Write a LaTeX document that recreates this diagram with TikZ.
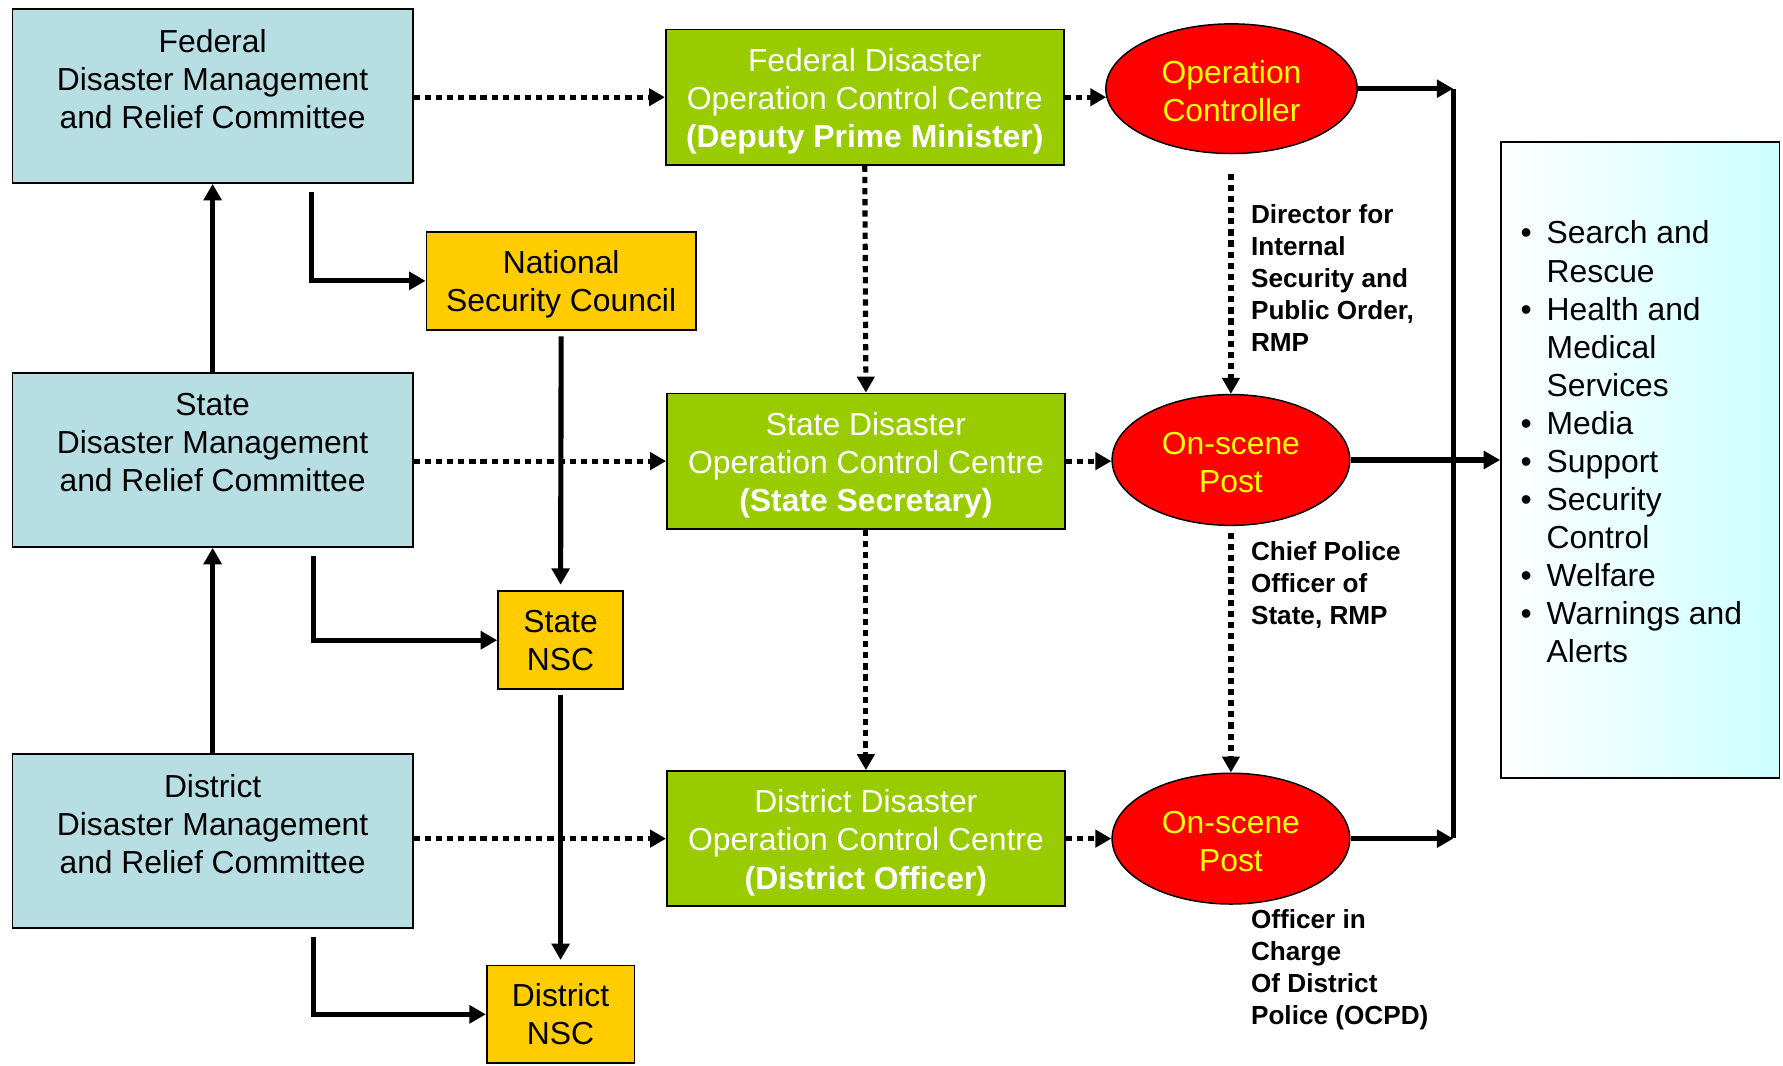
\documentclass[tikz,border=0pt]{standalone}
\usepackage{fontspec}
\setmainfont{Liberation Sans}
\usetikzlibrary{arrows.meta,shapes.geometric,calc}
\definecolor{dmblue}{HTML}{B7DEE3}
\definecolor{occgreen}{HTML}{99CC00}
\definecolor{nscgold}{HTML}{FFCC00}
\definecolor{postred}{HTML}{FF0000}
\definecolor{posttext}{HTML}{FFFF00}
\definecolor{listcyan}{HTML}{CCFFFF}
\newcommand\bulitem{\makebox[23pt][l]{\textbullet}}
\newcommand\bulcont{\hspace*{23pt}}
\begin{document}
\begin{tikzpicture}[x=1pt,y=-1pt,
  every node/.style={font=\fontsize{28}{33.5}\selectfont, align=center, inner sep=0pt},
  dmbox/.style={draw=black, line width=1.5pt, fill=dmblue, minimum width=352pt, minimum height=153pt},
  occbox/.style={draw=black, line width=1.5pt, fill=occgreen, text=white, minimum width=350pt, minimum height=119pt},
  nscbox/.style={draw=black, line width=1.5pt, fill=nscgold},
  postell/.style={ellipse, draw=black, line width=1.3pt, fill=postred, text=posttext},
  rolelbl/.style={font=\fontsize{23}{28}\selectfont\bfseries, align=left, anchor=north west},
  solidarr/.style={line width=4.5pt, -{Triangle[length=14.5pt,width=15.5pt]}},
  dotarr/.style={line width=4.5pt, dash pattern=on 5.5pt off 4.3pt, -{Triangle[length=14pt,width=15pt]}},
]
\useasboundingbox (0,0) rectangle (1568,937);

% disaster management and relief committees (text sits in the upper part)
\node[dmbox] (fdm) at (187,84.5) {Federal\\Disaster Management\\and Relief Committee\\[-3pt]\mbox{}};
\node[dmbox] (sdm) at (187,404.5) {State\\Disaster Management\\and Relief Committee\\[-3pt]\mbox{}};
\node[dmbox] (ddm) at (187,739.5) {District\\Disaster Management\\and Relief Committee\\[-3pt]\mbox{}};

% security councils
\node[nscbox, minimum width=237pt, minimum height=86pt] (nsc) at (493.5,247) {\mbox{}\\[-7.1pt]National\\Security Council};
\node[nscbox, minimum width=110pt, minimum height=86pt] (snsc) at (493,563) {State\\NSC};
\node[nscbox, minimum width=130pt, minimum height=86pt] (dnsc) at (493,892) {District\\NSC};

% operation control centres
\node[occbox] (focc) at (760.5,85.5) {\mbox{}\\[-6.1pt]Federal Disaster\\Operation Control Centre\\\textbf{(Deputy Prime Minister)}};
\node[occbox] (socc) at (761.5,405.5) {\mbox{}\\[-6.1pt]State Disaster\\Operation Control Centre\\\textbf{(State Secretary)}};
\node[occbox] (docc) at (761.5,737.5) {\mbox{}\\[-6.1pt]District Disaster\\Operation Control Centre\\\textbf{(District Officer)}};

% posts
\node[postell, minimum width=221pt, minimum height=114pt] (oc) at (1083,78) {\mbox{}\\[-9.1pt]Operation\\Controller};
\node[postell, minimum width=209pt, minimum height=115pt] (sp) at (1082.5,404.5) {\mbox{}\\[-9.1pt]On-scene\\Post};
\node[postell, minimum width=209pt, minimum height=115pt] (dp) at (1082.5,737.5) {\mbox{}\\[-9.1pt]On-scene\\Post};

% officers in command
\node[rolelbl] (lbl1) at (1100,180) {Director for\\Internal\\Security and\\Public Order,\\RMP};
\node[rolelbl] (lbl2) at (1100,476) {Chief Police\\Officer of\\State, RMP};
\node[rolelbl] (lbl3) at (1100,800) {Officer in\\Charge\\Of District\\Police (OCPD)};

% services
\node[draw=black, line width=1.5pt, left color=white, right color=listcyan,
      minimum width=245pt, minimum height=559pt] (svcbox) at (1442.5,404.5) {};
\node[anchor=north west, align=left] (svc) at (1337,194) {%
  \bulitem Search and\\\bulcont Rescue\\
  \bulitem Health and\\\bulcont Medical\\\bulcont Services\\
  \bulitem Media\\
  \bulitem Support\\
  \bulitem Security\\\bulcont Control\\
  \bulitem Welfare\\
  \bulitem Warnings and\\\bulcont Alerts};

% solid links
\draw[solidarr] (sdm.north) -- (fdm.south);
\draw[solidarr] (ddm.north) -- (sdm.south);
\draw[solidarr] ($(fdm.south)+(87,7)$) |- (nsc.west);
\draw[solidarr] ($(sdm.south)+(89,7)$) |- (snsc.west);
\draw[solidarr] ($(ddm.south)+(89,7)$) |- (dnsc.west);
\draw[solidarr] ($(nsc.south)+(0,5)$) -- ($(snsc.north)+(0,-5)$);
\draw[solidarr] ($(snsc.south)+(0,4)$) -- ($(dnsc.north)+(0,-4)$);

% dotted links
\draw[dotarr] (fdm.east |- focc.west) -- (focc.west);
\draw[dotarr] (sdm.east |- socc.west) -- (socc.west);
\draw[dotarr] (ddm.east |- docc.west) -- (docc.west);
\draw[dotarr] (focc.south) -- (socc.north);
\draw[dotarr] (socc.south) -- (docc.north);
\draw[dotarr] (focc.east) -- ($(focc.east -| oc.west)+(1,0)$);
\draw[dotarr] (socc.east) -- (socc.east -| sp.west);
\draw[dotarr] (docc.east) -- (docc.east -| dp.west);
\draw[dotarr] ($(sp.north |- oc.south)+(0,17)$) -- (sp.north);
\draw[dotarr] ($(sp.south)+(0,6)$) -- (dp.north);

% collector bus
\coordinate (bt) at (1278,78);
\coordinate (bb) at (1278,737);
\draw[line width=4.5pt] (bt) -- (bb);
\draw[solidarr] (oc.east) -- (bt);
\draw[solidarr] (sp.east) -- (svcbox.west |- sp.east);
\draw[solidarr] (dp.east) -- (dp.east -| bt);
\end{tikzpicture}
\end{document}
